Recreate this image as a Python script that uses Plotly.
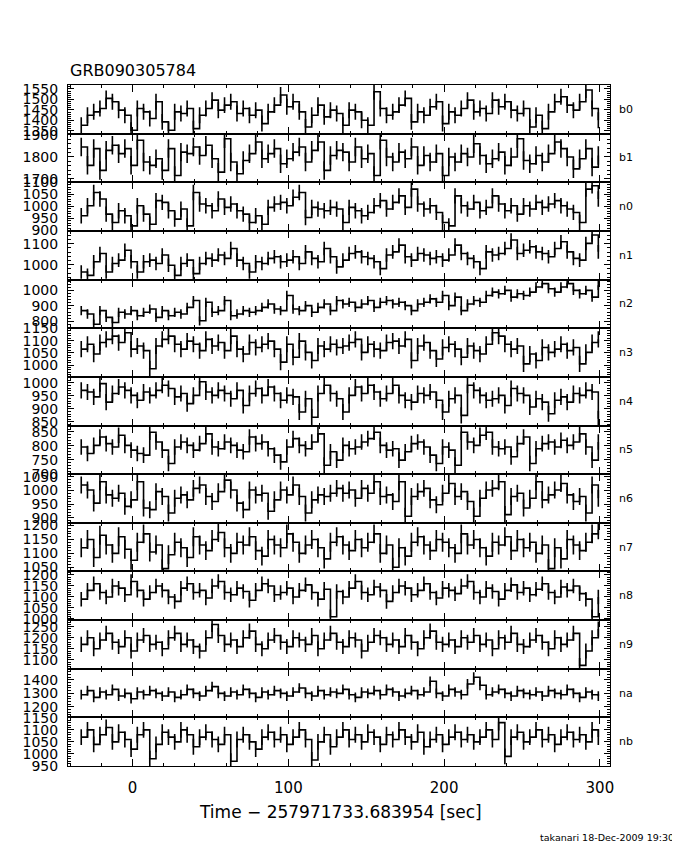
import plotly.graph_objects as go
from plotly.subplots import make_subplots

# time bins (s, relative to trigger)
time_s = list(range(-33, 300, 4))

det_names = ["b0", "b1", "n0", "n1", "n2", "n3", "n4", "n5", "n6", "n7", "n8", "n9", "na", "nb"]

b0 = [1377,1425,1441,1457,1505,1489,1449,1425,1353,1457,1441,1409,
      1489,1393,1353,1441,1433,1457,1361,1425,1457,1497,1449,1473,
      1489,1433,1457,1425,1449,1385,1441,1473,1521,1465,1489,1441,
      1369,1425,1473,1417,1449,1433,
      1377,1449,1441,1401,1377,1537,1457,1425,1441,1473,1505,1393,
      1441,1425,1465,1489,1385,1441,1425,1457,1497,1441,1457,1433,
      1497,1465,1489,1449,1433,1457,1369,1425,1361,1441,1489,1513,
      1473,1449,1489,1545,1457,1401]
b1 = [1845,1762,1838,1739,1830,1853,1815,1838,1762,1876,1777,1762,
      1792,1739,1838,1716,1822,1815,1845,1807,1853,1792,1731,1883,
      1777,1724,1784,1815,1868,1792,1815,1838,1769,1792,1822,1845,
      1777,1830,1868,1739,1807,1830,
      1822,1777,1845,1792,1815,1716,1876,1800,1777,1822,1792,1845,
      1762,1807,1777,1815,1716,1800,1777,1815,1800,1860,1807,1769,
      1792,1822,1762,1800,1883,1784,1769,1807,1777,1815,1868,1838,
      1800,1746,1792,1838,1754,1807]
n0 = [961,1003,1058,1031,968,933,982,961,919,1003,968,926,
      1024,1017,982,947,989,919,1058,1010,1003,982,1031,996,
      1010,982,968,933,961,926,996,1010,1017,1003,1038,1058,
      954,996,989,982,996,989,
      933,996,982,961,975,1003,1024,989,1017,1044,996,1072,
      1010,989,1003,975,933,919,1044,1003,989,1017,982,996,
      1044,1010,982,1003,968,1003,989,1017,996,1010,1024,1003,
      989,975,933,1072,1086,1031]
n1 = [966,950,1014,1053,966,1006,1022,1069,1014,966,1014,1022,
      1006,1046,998,950,1006,1022,958,1006,1030,1022,1046,1030,
      1077,1022,1006,966,1014,1006,1030,1038,1014,1022,1038,1006,
      1061,1030,1014,1077,1038,990,
      1022,1053,1061,1038,1030,1014,982,1046,1061,1093,1038,1022,
      1053,1046,1030,1038,1022,1046,1093,1053,1030,1014,982,1061,
      1046,1053,1077,1117,1053,1069,1085,1061,1053,1038,1077,1109,
      1061,1030,1022,1101,1141,1061]
n2 = [869,847,781,869,825,792,858,847,869,836,858,879,
      825,869,836,858,847,890,934,803,923,858,869,934,
      836,847,869,858,869,890,912,879,869,967,879,869,
      901,858,890,912,869,934,
      912,923,890,912,934,890,923,934,912,923,901,869,
      912,923,945,923,967,901,956,869,912,934,923,967,
      989,978,1000,956,978,967,989,1022,1044,1011,989,1022,
      1044,1000,978,1000,956,1033]
n3 = [1065,1085,1045,1092,1105,1118,1092,1132,1065,1078,1059,985,
      1078,1105,1118,1085,1065,1098,1085,1059,1105,1078,1092,1059,
      1118,1065,1045,1092,1072,1085,1098,1065,1012,1085,1032,1098,
      1052,1019,1078,1065,1085,1072,
      1078,1092,1105,1052,1085,1065,1059,1092,1098,1078,1105,1019,
      1078,1092,1059,1025,1072,1085,1065,1032,1078,1059,1045,1085,
      1132,1118,1085,1065,1078,1005,1045,1019,1072,1052,1065,1085,
      1059,1072,1005,1052,1092,1105]
n4 = [971,965,946,997,926,959,984,971,952,933,965,952,
      971,991,978,946,959,920,952,1004,965,952,971,959,
      939,971,913,959,978,952,984,959,933,952,946,888,
      939,868,959,991,959,939,
      888,952,984,959,991,965,939,959,991,952,933,926,
      959,952,965,933,888,939,952,875,991,971,952,933,
      939,952,913,978,959,952,907,939,926,881,933,946,
      926,959,952,971,965,862]
n5 = [796,773,802,832,808,796,838,802,785,773,767,849,
      814,785,737,796,814,802,785,808,843,796,790,814,
      802,785,779,832,808,814,790,767,743,796,826,802,
      790,814,843,731,779,749,
      802,790,796,814,826,849,802,785,790,749,779,808,
      814,796,767,737,796,785,731,849,814,802,838,849,
      796,790,796,761,808,832,737,790,808,814,796,820,
      802,814,843,796,749,814]
n6 = [1020,1002,954,1032,984,972,990,942,966,1032,936,930,
      996,978,918,972,984,966,1008,1020,978,960,996,1038,
      1002,954,930,1002,984,990,924,966,1002,984,1020,978,
      918,966,984,978,990,1008,
      990,1002,972,1008,990,1032,978,984,960,1032,906,978,
      996,1008,966,948,990,1026,978,996,960,906,972,1002,
      1008,1032,912,978,990,936,972,1032,966,984,1002,1026,
      984,960,978,918,1020,972]
n7 = [1120,1150,1085,1165,1130,1100,1160,1115,1075,1140,1170,1105,
      1130,1045,1095,1140,1120,1085,1160,1130,1110,1150,1175,1120,
      1100,1140,1130,1160,1110,1090,1150,1130,1120,1170,1140,1100,
      1130,1150,1120,1080,1140,1160,1130,1110,1150,1120,1140,1170,
      1100,1130,1050,1120,1090,1140,1160,1130,1110,1150,1140,1120,
      1100,1170,1130,1150,1120,1090,1140,1130,1160,1110,1150,1120,
      1140,1100,1130,1045,1120,1080,1150,1130,1110,1140,1170,1185]
n8 = [1090,1130,1160,1120,1100,1150,1140,1110,1170,1130,1090,1120,
      1150,1130,1100,1080,1140,1160,1120,1130,1095,1150,1170,1120,
      1110,1140,1125,1085,1130,1160,1150,1110,1120,1140,1100,1130,
      1155,1120,1090,1135,1010,1125,1100,1140,1170,1120,1110,1145,
      1130,1080,1120,1150,1140,1110,1130,1160,1120,1095,1140,1130,
      1115,1150,1170,1120,1100,1140,1125,1090,1130,1155,1120,1140,
      1110,1135,1160,1120,1100,1145,1130,1150,1115,1090,1010,1100]
n9 = [1170,1200,1150,1190,1220,1180,1160,1200,1140,1190,1210,1170,
      1180,1150,1200,1220,1170,1190,1160,1140,1200,1260,1210,1170,
      1190,1160,1200,1230,1170,1150,1190,1210,1180,1160,1200,1190,
      1170,1210,1150,1190,1220,1180,1160,1200,1190,1140,1180,1210,
      1200,1170,1190,1160,1210,1180,1150,1200,1230,1180,1170,1190,
      1160,1200,1180,1210,1170,1190,1150,1200,1180,1220,1170,1160,
      1190,1210,1180,1150,1200,1170,1190,1220,1075,1140,1200,1240]
na = [1290,1320,1270,1310,1290,1330,1280,1300,1260,1310,1290,1320,
      1300,1280,1310,1270,1290,1330,1300,1280,1320,1350,1300,1280,
      1310,1290,1330,1300,1270,1310,1290,1320,1300,1280,1310,1340,
      1300,1280,1320,1290,1310,1300,1330,1290,1270,1310,1300,1320,
      1290,1330,1310,1280,1300,1320,1290,1310,1390,1300,1280,1330,
      1310,1290,1370,1420,1360,1290,1310,1330,1300,1280,1320,1300,
      1290,1310,1280,1320,1300,1290,1330,1300,1270,1310,1290,1280]
nb = [1070,1100,1040,1080,1110,1050,1090,1060,1020,1080,1100,980,
      1040,1090,1070,1050,1100,1080,1030,1070,1090,1060,1040,1080,
      970,1060,1080,1050,1020,1070,1090,1060,1080,1040,1070,1100,
      1060,975,1050,1080,1030,1070,1100,1060,1080,1050,1090,1070,
      1040,1080,1060,1100,1070,1050,1090,1030,1060,1080,1040,1070,
      1090,1060,1080,1050,1070,1100,1060,1130,990,1070,1090,1050,
      1070,1100,1060,1080,1040,1070,1090,1060,1080,1050,1100,1070]

series = [b0, b1, n0, n1, n2, n3, n4, n5, n6, n7, n8, n9, na, nb]

# per-panel statistical error (counts/s)
errors = [38, 42, 32, 32, 30, 33, 31, 28, 31, 34, 33, 34, 36, 33]

# axis settings
y_ranges = [[1337, 1569], [1685, 1906], [898, 1100.5], [930, 1160], [755, 1070],
            [952, 1150.5], [836, 1023], [699, 873], [882, 1060], [1035, 1210],
            [995, 1216], [1060, 1280], [1122, 1483], [950, 1152]]
y_dticks = [50, 100, 50, 100, 100, 50, 50, 50, 50, 50, 50, 50, 100, 50]
y_minor = [10, 20, 10, 20, 20, 10, 10, 10, 10, 10, 10, 10, 20, 10]

FONT = "DejaVu Sans"
n = len(series)
fig = make_subplots(rows=n, cols=1, shared_xaxes=True, vertical_spacing=0)

for i, vals in enumerate(series):
    fig.add_trace(go.Scatter(
        x=time_s[:len(vals)], y=vals, mode="lines",
        line=dict(color="black", width=1.6, shape="hv"),
        error_y=dict(type="constant", value=errors[i], color="black", thickness=1.6, width=0),
        showlegend=False, hoverinfo="skip"), row=i + 1, col=1)
    fig.update_yaxes(
        range=y_ranges[i], dtick=y_dticks[i], tick0=0, automargin=False,
        ticks="inside", ticklen=6, tickcolor="black", tickwidth=1,
        minor=dict(dtick=y_minor[i], ticks="inside", ticklen=3, tickcolor="black", showgrid=False),
        showline=True, linecolor="black", linewidth=1, mirror="allticks",
        showgrid=False, zeroline=False,
        tickfont=dict(family=FONT, size=14, color="black"),
        ticklabelstandoff=6,
        row=i + 1, col=1)
    fig.update_xaxes(
        range=[-41.5, 306.5], dtick=100, tick0=0, automargin=False,
        ticks="inside", ticklen=7, tickcolor="black",
        minor=dict(dtick=20, ticks="inside", ticklen=3, tickcolor="black", showgrid=False),
        showline=True, linecolor="black", linewidth=1, mirror="allticks",
        showgrid=False, zeroline=False,
        showticklabels=(i == n - 1),
        tickfont=dict(family=FONT, size=15, color="black"),
        ticklabelstandoff=8,
        row=i + 1, col=1)

annotations = []
for i, name in enumerate(det_names):
    key = "yaxis" if i == 0 else f"yaxis{i + 1}"
    d = fig.layout[key].domain
    annotations.append(dict(x=1.012, y=(d[0] + d[1]) / 2, xref="paper", yref="paper",
                            text=name, showarrow=False, xanchor="left", yanchor="middle",
                            font=dict(family=FONT, size=11, color="black")))

annotations.append(dict(x=0.0, y=1.022, xref="paper", yref="paper", text="GRB090305784",
                        showarrow=False, xanchor="left", yanchor="middle",
                        font=dict(family=FONT, size=16, color="black")))
annotations.append(dict(x=0.502, y=-0.0675, xref="paper", yref="paper",
                        text="Time \u2212 257971733.683954 [sec]",
                        showarrow=False, xanchor="center", yanchor="middle",
                        font=dict(family=FONT, size=17, color="black")))
annotations.append(dict(x=1.122, y=-0.1057, xref="paper", yref="paper",
                        text="takanari 18-Dec-2009 19:30",
                        showarrow=False, xanchor="right", yanchor="middle",
                        font=dict(family=FONT, size=9.5, color="black")))

# the page adds an 8 px body margin, so the figure is 8 px smaller on each side
fig.update_layout(
    width=672, height=842,
    margin=dict(l=60, r=70, t=77, b=84, autoexpand=False),
    paper_bgcolor="white", plot_bgcolor="white",
    annotations=annotations,
    showlegend=False,
)

fig.write_html("out.html")
